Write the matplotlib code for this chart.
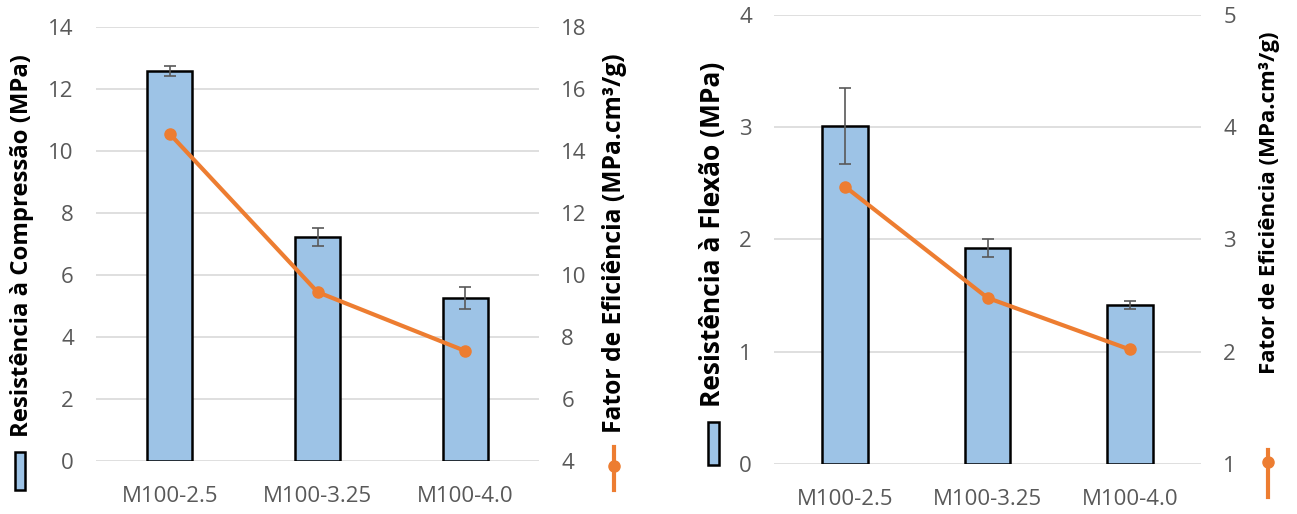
import matplotlib
matplotlib.use("Agg")
import matplotlib.pyplot as plt
from matplotlib.patches import Rectangle
from matplotlib.lines import Line2D

plt.rcParams["font.family"] = ["Open Sans", "DejaVu Sans"]

categories = ["M100-2.5", "M100-3.25", "M100-4.0"]

# compressão
comp_strength = [12.58, 7.23, 5.26]
comp_err = [0.16, 0.29, 0.35]
comp_factor = [14.55, 9.45, 7.55]

# flexão
flex_strength = [3.01, 1.92, 1.42]
flex_err = [0.34, 0.08, 0.035]
flex_factor = [3.47, 2.48, 2.02]

BAR = "#9DC3E6"
ORANGE = "#ED7D31"
TICK = "#595959"
GRID = "#D9D9D9"

fig = plt.figure(figsize=(12.97, 5.14), dpi=100)


def panel(rect, values, errs, factor, bar_w, lim_l, ticks_l, lim_r, ticks_r):
    ax = fig.add_axes(rect)
    x = range(len(categories))
    ax.bar(x, values, width=bar_w, color=BAR, edgecolor="black", linewidth=1.8, zorder=2)
    ax.errorbar(x, values, yerr=errs, fmt="none", ecolor=TICK, elinewidth=1.2,
                capsize=4, capthick=1.2, zorder=3)
    ax.set_xlim(-0.5, len(categories) - 0.5)
    ax.set_ylim(*lim_l)
    ax.set_yticks(ticks_l)
    ax.set_xticks(list(x))
    ax.set_xticklabels(categories)
    ax.grid(axis="y", color=GRID, linewidth=1.2, zorder=0)
    ax.set_axisbelow(True)
    for s in ax.spines.values():
        s.set_visible(False)
    ax.tick_params(axis="both", length=0, labelsize=16, labelcolor=TICK)
    ax.tick_params(axis="y", pad=16)
    ax.tick_params(axis="x", pad=18)

    ax2 = ax.twinx()
    ax2.plot(x, factor, color=ORANGE, linewidth=3, marker="o", markersize=8, zorder=4)
    ax2.set_ylim(*lim_r)
    ax2.set_yticks(ticks_r)
    for s in ax2.spines.values():
        s.set_visible(False)
    ax2.tick_params(axis="y", length=0, labelsize=16, labelcolor=TICK, pad=16)
    return ax, ax2


panel([0.074, 0.1031, 0.3416, 0.8444], comp_strength, comp_err, comp_factor, 0.305,
      (0, 14), range(0, 15, 2), (4, 18), range(4, 19, 2))
panel([0.5968, 0.0973, 0.3292, 0.8735], flex_strength, flex_err, flex_factor, 0.32,
      (0, 4), range(0, 5), (1, 5), range(1, 6))

lab = dict(rotation=90, ha="center", va="center", fontweight="bold", color="black")
fig.text(0.017, 0.522, "Resistência à Compressão (MPa)", fontsize=17.2, **lab)
fig.text(0.474, 0.526, "Fator de Eficiência (MPa.cm³/g)", fontsize=17.7, **lab)
fig.text(0.549, 0.544, "Resistência à Flexão (MPa)", fontsize=19, **lab)
fig.text(0.979, 0.605, "Fator de Eficiência (MPa.cm³/g)", fontsize=16, **lab)

W, H = 1297, 514


def key_bar(x0, x1, y0, y1):
    fig.add_artist(Rectangle((x0 / W, 1 - y1 / H), (x1 - x0) / W, (y1 - y0) / H,
                             transform=fig.transFigure, facecolor=BAR,
                             edgecolor="black", linewidth=1.8))


def key_line(xc, y0, y1, yd):
    fig.add_artist(Line2D([xc / W, xc / W], [1 - y0 / H, 1 - y1 / H],
                          transform=fig.transFigure, color=ORANGE, linewidth=3))
    fig.add_artist(Line2D([xc / W], [1 - yd / H], transform=fig.transFigure,
                          color=ORANGE, marker="o", markersize=8))


key_bar(15, 25, 452, 490)
key_bar(708, 719, 422, 465)
key_line(614, 447, 490, 466)
key_line(1268, 450, 497, 462)

fig.savefig("out.png", dpi=100)
